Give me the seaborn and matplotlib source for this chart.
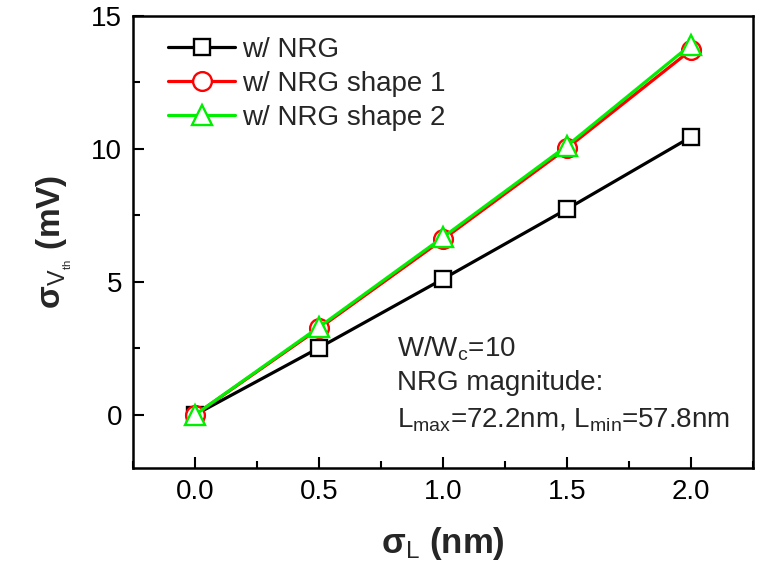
import matplotlib
matplotlib.use("Agg")
import matplotlib.pyplot as plt
import seaborn as sns
import pandas as pd
from matplotlib.ticker import MultipleLocator

sigma_L = [0.0, 0.5, 1.0, 1.5, 2.0]
nrg = [0.0, 2.52, 5.11, 7.74, 10.45]
shape1 = [0.0, 3.25, 6.6, 10.03, 13.72]
shape2 = [0.0, 3.3, 6.68, 10.12, 13.92]
labels = ["w/ NRG", "w/ NRG shape 1", "w/ NRG shape 2"]
colors = ["black", "#ff0000", "#00ee00"]
markers = ["s", "o", "^"]

sns.set_theme(style="ticks")
plt.rcParams['font.family'] = ['Liberation Sans', 'DejaVu Sans']
plt.rcParams['mathtext.fontset'] = 'custom'
plt.rcParams['mathtext.rm'] = 'Liberation Sans'
plt.rcParams['mathtext.it'] = 'Liberation Sans'
plt.rcParams['mathtext.bf'] = 'Liberation Sans:bold'
plt.rcParams['xtick.direction'] = 'in'
plt.rcParams['ytick.direction'] = 'in'

fig = plt.figure(figsize=(7.61, 5.71), dpi=100)
ax = fig.add_axes([133/761, 1-468/571, (753-133)/761, (468-16)/571])

sizes = {"s": 12, "o": 13.5, "^": 15}
series = [nrg, shape1, shape2]
for i, (vals, lab) in enumerate(zip(series, labels)):
    df = pd.DataFrame({"x": sigma_L, "y": vals})
    sns.lineplot(data=df, x="x", y="y", ax=ax, color=colors[i], label=lab,
                 marker=markers[i], markersize=sizes[markers[i]], markerfacecolor="white",
                 markeredgecolor=colors[i], markeredgewidth=1.7, linewidth=2.3,
                 zorder=3 + i)

ax.set_xlim(-0.25, 2.25)
ax.set_ylim(-2, 15)
ax.set_xticks([0.0, 0.5, 1.0, 1.5, 2.0])
ax.set_xticklabels(["0.0", "0.5", "1.0", "1.5", "2.0"])
ax.set_yticks([0, 5, 10, 15])
ax.set_yticklabels(["0", "5", "10", "15"])
ax.xaxis.set_minor_locator(MultipleLocator(0.25))
ax.yaxis.set_minor_locator(MultipleLocator(2.5))

ax.tick_params(axis='both', which='major', direction='in', length=8, width=1.5,
               labelsize=20, color='black', labelcolor='black', pad=8)
ax.tick_params(axis='both', which='minor', direction='in', length=5, width=1.5,
               color='black')
for sp in ax.spines.values():
    sp.set_linewidth(1.8)
    sp.set_color('black')
    sp.set_visible(True)

ax.set_xlabel(r"σ$_\mathrm{L}$ (nm)", fontsize=25, fontweight='bold', labelpad=14)
ax.set_ylabel(r"σ$_{\mathrm{V}_{_\mathrm{th}}}$ (mV)", fontsize=24, fontweight='bold', labelpad=12)

leg = ax.legend(loc='upper left', frameon=False, fontsize=20, handlelength=2.4,
                handletextpad=0.25, labelspacing=0.28, borderaxespad=0.2,
                bbox_to_anchor=(0.03, 0.99))

ax.text(0.815, 2.18, r"W/W$_\mathrm{c}$=10", fontsize=20, va='baseline', ha='left')
ax.text(0.815, 0.94, "NRG magnitude:", fontsize=20, va='baseline', ha='left')
ax.text(0.815, -0.49, r"L$_\mathrm{max}$=72.2nm, L$_\mathrm{min}$=57.8nm", fontsize=20,
        va='baseline', ha='left')

fig.savefig("out.png", dpi=100, facecolor='white')
